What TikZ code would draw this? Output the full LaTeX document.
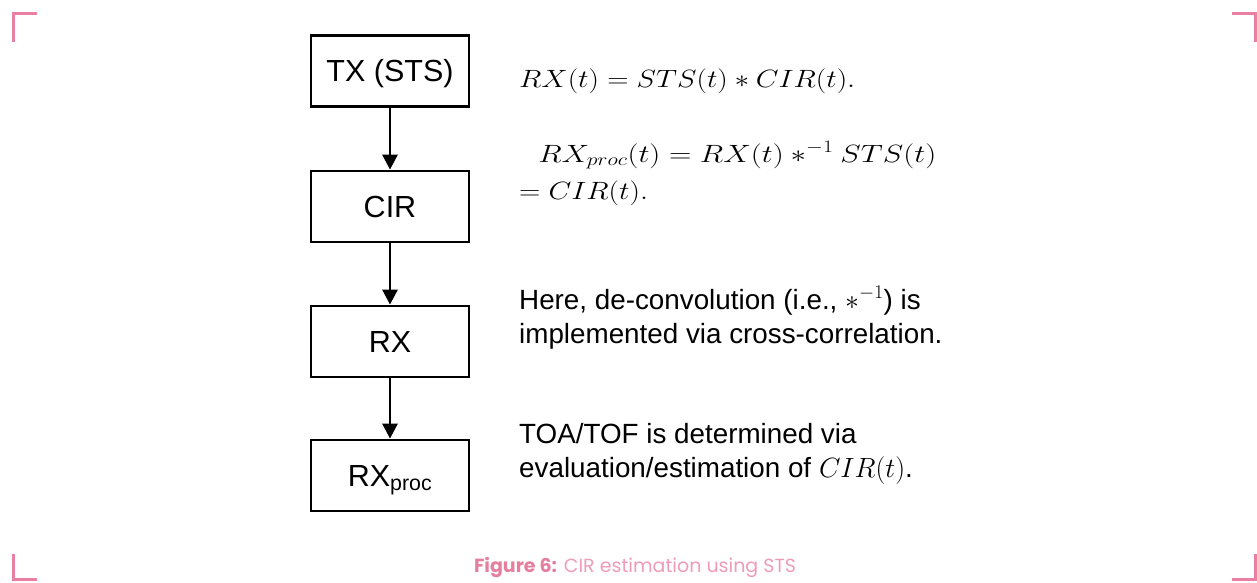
\RequirePackage{fix-cm}
\documentclass[tikz,border=0pt]{standalone}
\usepackage[no-math]{fontspec}
\setmainfont{Liberation Sans}
\newfontfamily\capfont{Poppins}
\usetikzlibrary{arrows.meta}
\definecolor{markpink}{HTML}{E97FA3}
\definecolor{capbold}{HTML}{E57FA0}
\definecolor{caplight}{HTML}{EE9CB8}
\tikzset{
  flowbox/.style={draw=black, line width=2.8pt, minimum width=158pt, minimum height=71pt,
    inner sep=0pt, text height=21.8pt, text depth=0pt, font=\fontsize{30.5}{36}\selectfont},
  flowarrow/.style={line width=2.8pt, -{Triangle[length=15pt,width=15pt]}},
  note/.style={anchor=base west, inner sep=0pt, font=\fontsize{27.8}{34}\selectfont},
  eqn/.style={anchor=base west, inner sep=0pt, xscale=1.18, transform shape,
    font=\fontsize{25}{30}\selectfont},
  cornermark/.style={draw=markpink, line width=3pt}
}
\begin{document}
\begin{tikzpicture}[x=1pt, y=-1pt]
\useasboundingbox (0,0) rectangle (1257,582);
\fill[white] (0,0) rectangle (1257,582);

% frame corners
\draw[cornermark] (13,42) -- (13,13) -- (37,13);
\draw[cornermark] (1232,13) -- (1255,13) -- (1255,42);
\draw[cornermark] (13,554) -- (13,579) -- (37,579);
\draw[cornermark] (1232,579) -- (1255,579) -- (1255,554);

% processing chain
\node[flowbox] (tx)   at (390,71)  {TX (STS)};
\node[flowbox] (cir)  at (390,206.5) {CIR};
\node[flowbox] (rx)   at (390,341.5) {RX};
\node[flowbox] (proc) at (390,475.5) {RX\textsubscript{proc}};
\draw[flowarrow] (tx) -- (cir);
\draw[flowarrow] (cir) -- (rx);
\draw[flowarrow] (rx) -- (proc);

% equations
\node[eqn] (eqa) at (519,87) {$RX(t) = STS(t) * CIR(t).$};
\node[eqn, xscale=1.05] (eqb) at (538,162) {$RX_{proc}(t) = RX(t) \mathbin{*^{-1}} STS(t)$};
\node[eqn] (eqc) at (519,199) {$= CIR(t).$};

% remarks
\node[note] (ra) at (519,309) {Here, de-convolution (i.e., $*^{-1}$) is};
\node[note] (rb) at (519,343) {implemented via cross-correlation.};
\node[note] (rc) at (519,443) {TOA/TOF is determined via};
\node[note] (rd) at (519,477) {evaluation/estimation of $CIR(t)$.};

% caption
\node[anchor=base, inner sep=0pt, font=\capfont\fontsize{19}{22}\selectfont] (cap) at (635,572)
  {\textcolor{capbold}{\bfseries Figure 6:} \textcolor{caplight}{CIR estimation using STS}};
\end{tikzpicture}
\end{document}
